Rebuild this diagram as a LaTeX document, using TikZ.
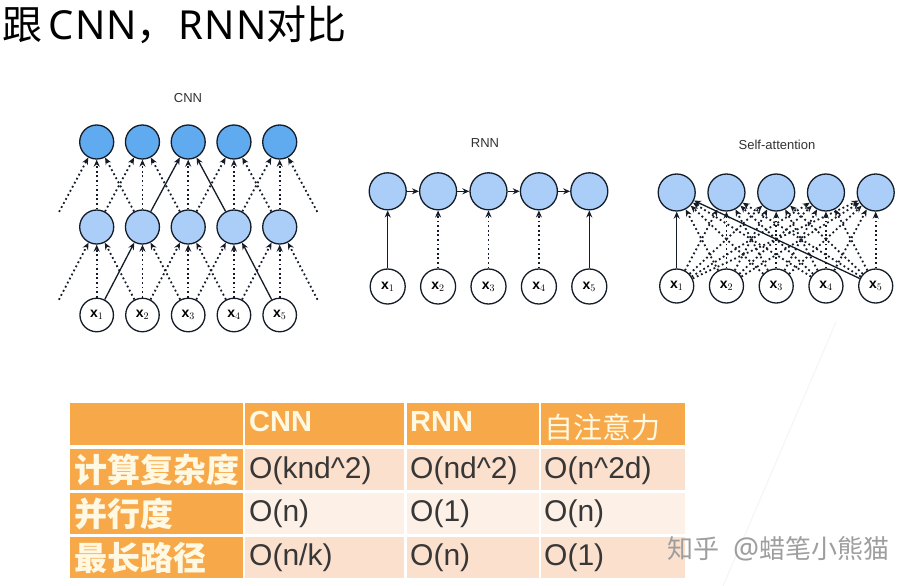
\documentclass[tikz,border=0pt]{standalone}
\usepackage{fontspec}
\setmainfont{Liberation Sans}
\newfontfamily\cjk{Noto Sans CJK SC}
\newfontfamily\notos{Noto Sans}
\usetikzlibrary{arrows.meta}
\definecolor{edgecol}{RGB}{20,28,40}
\definecolor{topblue}{RGB}{96,170,240}
\definecolor{lightblue}{RGB}{170,206,247}
\definecolor{hdr}{RGB}{247,169,74}
\definecolor{rowa}{RGB}{251,224,205}
\definecolor{rowb}{RGB}{253,240,231}
\definecolor{cream}{RGB}{255,249,228}
\definecolor{celltext}{RGB}{55,55,55}
\definecolor{labtext}{RGB}{50,50,50}
\begin{document}
\begin{tikzpicture}[x=1pt,y=-1pt,
  circ/.style={circle,draw=edgecol,line width=1.3pt,minimum size=34pt,inner sep=0pt},
  bigcirc/.style={circ,minimum size=37pt},
  ghost/.style={circle,minimum size=34pt,inner sep=0pt},
  dotl/.style={-{Stealth[length=7pt,width=6pt]},line width=1.8pt,dash pattern=on 1.8pt off 2.8pt,edgecol},
  soll/.style={-{Stealth[length=7pt,width=6pt]},line width=1.3pt,edgecol},
  xlab/.style={font=\fontsize{14}{14}\selectfont},
  ttl/.style={font=\fontsize{13}{13}\selectfont,text=labtext},
  hdtxt/.style={anchor=west,text=cream,inner sep=0pt},
  celltxt/.style={anchor=west,text=celltext,inner sep=0pt,font=\fontsize{30}{30}\selectfont},
  rowtxt/.style={anchor=west,text=cream,inner sep=0pt,font=\fontsize{33}{33}\selectfont\cjk\bfseries}]
\useasboundingbox (0,0) rectangle (918,586);
\fill[white] (0,0) rectangle (918,586);
% faint diagonal
\draw[black!4,line width=1pt] (836,322) -- (723,586);
% title
\node[anchor=west,inner sep=0pt,font=\fontsize{40}{40}\selectfont] (title) at (2,25)
  {{\cjk 跟}\,{\notos C\kern1pt N\kern1pt N}{\cjk ，}\kern2pt{\notos R\kern1pt N\kern1pt N}{\cjk 对比}};

% ---------- CNN ----------
\node[ttl] (cnnt) at (188,98) {CNN};
\foreach \i in {0,...,6}{
  \pgfmathsetmacro\xx{96.7+(\i-1)*45.75}
  \ifnum\i=0
    \node[ghost] (cm\i) at (\xx,227) {};
    \node[ghost] (cx\i) at (\xx,315) {};
  \else\ifnum\i=6
    \node[ghost] (cm\i) at (\xx,227) {};
    \node[ghost] (cx\i) at (\xx,315) {};
  \else
    \node[circ,fill=topblue] (ct\i) at (\xx,142) {};
    \node[circ,fill=lightblue] (cm\i) at (\xx,227) {};
    \node[circ,fill=white,minimum size=33.5pt,xlab] (cx\i) at (\xx,315) {$\mathbf{x}_{\i}$};
  \fi\fi
}
\foreach \u/\l in {1/0,1/1,1/2,2/2,2/3,3/2,3/3,3/4,4/3,4/4,5/4,5/5,5/6}
  \draw[dotl] (cx\l) -- (cm\u);
\draw[soll] (cx1) -- (cm2);
\draw[soll] (cx5) -- (cm4);
\foreach \u/\l in {1/0,1/1,1/2,2/1,2/2,2/3,3/3,4/3,4/4,4/5,5/4,5/5,5/6}
  \draw[dotl] (cm\l) -- (ct\u);
\draw[soll] (cm2) -- (ct3);
\draw[soll] (cm4) -- (ct3);

% ---------- RNN ----------
\node[ttl] (rnnt) at (485,143) {RNN};
\foreach \i in {1,...,5}{
  \pgfmathsetmacro\xx{387.7+(\i-1)*50.4}
  \node[bigcirc,fill=lightblue] (rt\i) at (\xx,191.3) {};
  \node[circ,fill=white,minimum size=35pt,xlab] (rx\i) at (\xx,286.5) {$\mathbf{x}_{\i}$};
}
\foreach \i/\j in {1/2,2/3,3/4,4/5} \draw[soll] (rt\i) -- (rt\j);
\draw[soll] (rx1) -- (rt1);
\draw[soll] (rx5) -- (rt5);
\foreach \i in {2,3,4} \draw[dotl] (rx\i) -- (rt\i);

% ---------- Self-attention ----------
\node[ttl] (sat) at (777,145) {Self-attention};
\foreach \i in {1,...,5}{
  \pgfmathsetmacro\xx{676.7+(\i-1)*49.75}
  \node[bigcirc,fill=lightblue] (st\i) at (\xx,192.5) {};
  \node[circ,fill=white,xlab] (sx\i) at (\xx,286) {$\mathbf{x}_{\i}$};
}
\foreach \u in {1,...,5}{
  \foreach \l in {1,...,5}{
    \pgfmathtruncatemacro\s{(\u==1)&&((\l==1)||(\l==5))}
    \ifnum\s=0 \draw[dotl] (sx\l) -- (st\u); \fi
  }
}
\draw[soll] (sx1) -- (st1);
\draw[soll] (sx5) -- (st1);

% ---------- Table ----------
\fill[hdr] (70,403) rectangle (243,445);
\fill[hdr] (245,403) rectangle (404,445);
\fill[hdr] (406.5,403) rectangle (538.5,445);
\fill[hdr] (540.5,403) rectangle (685,445);
\fill[hdr] (70,449) rectangle (243,490);
\fill[hdr] (70,492.5) rectangle (243,534);
\fill[hdr] (70,536.5) rectangle (243,578);
\foreach \xa/\xb in {245/404,406.5/538.5,540.5/685}{
  \fill[rowa] (\xa,449) rectangle (\xb,490);
  \fill[rowb] (\xa,492.5) rectangle (\xb,534);
  \fill[rowa] (\xa,536.5) rectangle (\xb,578);
}
\node[hdtxt,font=\fontsize{29}{29}\selectfont\bfseries] (h1) at (249,422) {CNN};
\node[hdtxt,font=\fontsize{29}{29}\selectfont\bfseries] (h2) at (410,422) {RNN};
\node[hdtxt,font=\fontsize{29}{29}\selectfont\cjk] (h3) at (544,427) {自注意力};
\node[rowtxt] (r1) at (74,470) {计算复杂度};
\node[rowtxt] (r2) at (74,514) {并行度};
\node[rowtxt] (r3) at (74,558) {最长路径};
\node[celltxt] (c11) at (249,471) {O(knd\^{}2)};
\node[celltxt] (c12) at (410,471) {O(nd\^{}2)};
\node[celltxt] (c13) at (544,471) {O(n\^{}2d)};
\node[celltxt] (c21) at (249,514) {O(n)};
\node[celltxt] (c22) at (410,514) {O(1)};
\node[celltxt] (c23) at (544,514) {O(n)};
\node[celltxt] (c31) at (249,558) {O(n/k)};
\node[celltxt] (c32) at (410,558) {O(n)};
\node[celltxt] (c33) at (544,558) {O(1)};

% watermark
\node[anchor=west,inner sep=0pt,text=black!38,font=\fontsize{26}{26}\selectfont\cjk] (wm) at (667,549) {知乎\hspace{14pt}{\notos\fontsize{29}{29}\selectfont @}蜡笔小熊猫};
\end{tikzpicture}
\end{document}
